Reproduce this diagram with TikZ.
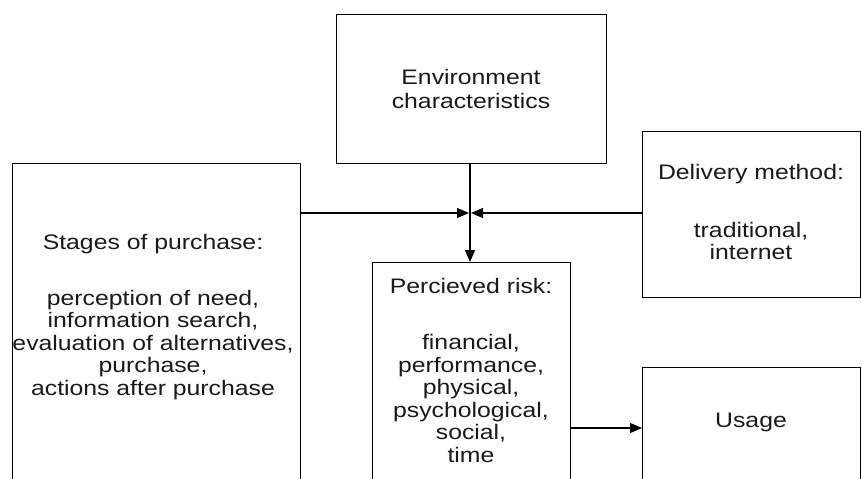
\documentclass[tikz,border=0pt]{standalone}
\usepackage{fontspec}
\setmainfont{Liberation Sans}[FakeStretch=1.18]
\usetikzlibrary{arrows.meta}
\begin{document}
\begin{tikzpicture}[x=1pt,y=-1pt,
  box/.style={draw=black,line width=1.3pt,rectangle,anchor=north west,inner sep=0pt},
  txt/.style={align=center,inner sep=0pt,text=black!90,font=\fontsize{21}{22.5}\selectfont},
  conn/.style={line width=1.3pt},
  arr/.style={conn,-{Triangle[length=12pt,width=10pt]}}]
\useasboundingbox (0,0) rectangle (862,479);
\clip (0,0) rectangle (862,479);
\node[box,minimum width=270,minimum height=149] (env) at (336,14) {};
\node[box,minimum width=288,minimum height=340] (stages) at (12,163) {};
\node[box,minimum width=218,minimum height=166] (deliv) at (642,131) {};
\node[box,minimum width=198,minimum height=240] (risk) at (372,262) {};
\node[box,minimum width=218,minimum height=140] (usage) at (642,367) {};
\node[txt] (envtxt) at (471,89) {Environment\\[2pt]characteristics};
\node[txt] (stagestxt) at (153,317) {Stages of purchase:\\[33pt]perception of need,\\information search,\\evaluation of alternatives,\\purchase,\\actions after purchase};
\node[txt] (delivtxt) at (751,212) {Delivery method:\\[35pt]traditional,\\internet};
\node[txt] (risktxt) at (471,370) {Percieved risk:\\[34pt]financial,\\performance,\\physical,\\psychological,\\social,\\time};
\node[txt] (usagetxt) at (751,422) {Usage};
\coordinate (J) at (470,213);
\draw[arr] (env.south -| J) -- (risk.north -| J);
\draw[arr] (stages.east |- J) -- ([xshift=-1pt]J);
\draw[arr] (deliv.west |- J) -- ([xshift=1pt]J);
\draw[arr] (risk.east |- 0,428) -- (usage.west |- 0,428);
\end{tikzpicture}
\end{document}
